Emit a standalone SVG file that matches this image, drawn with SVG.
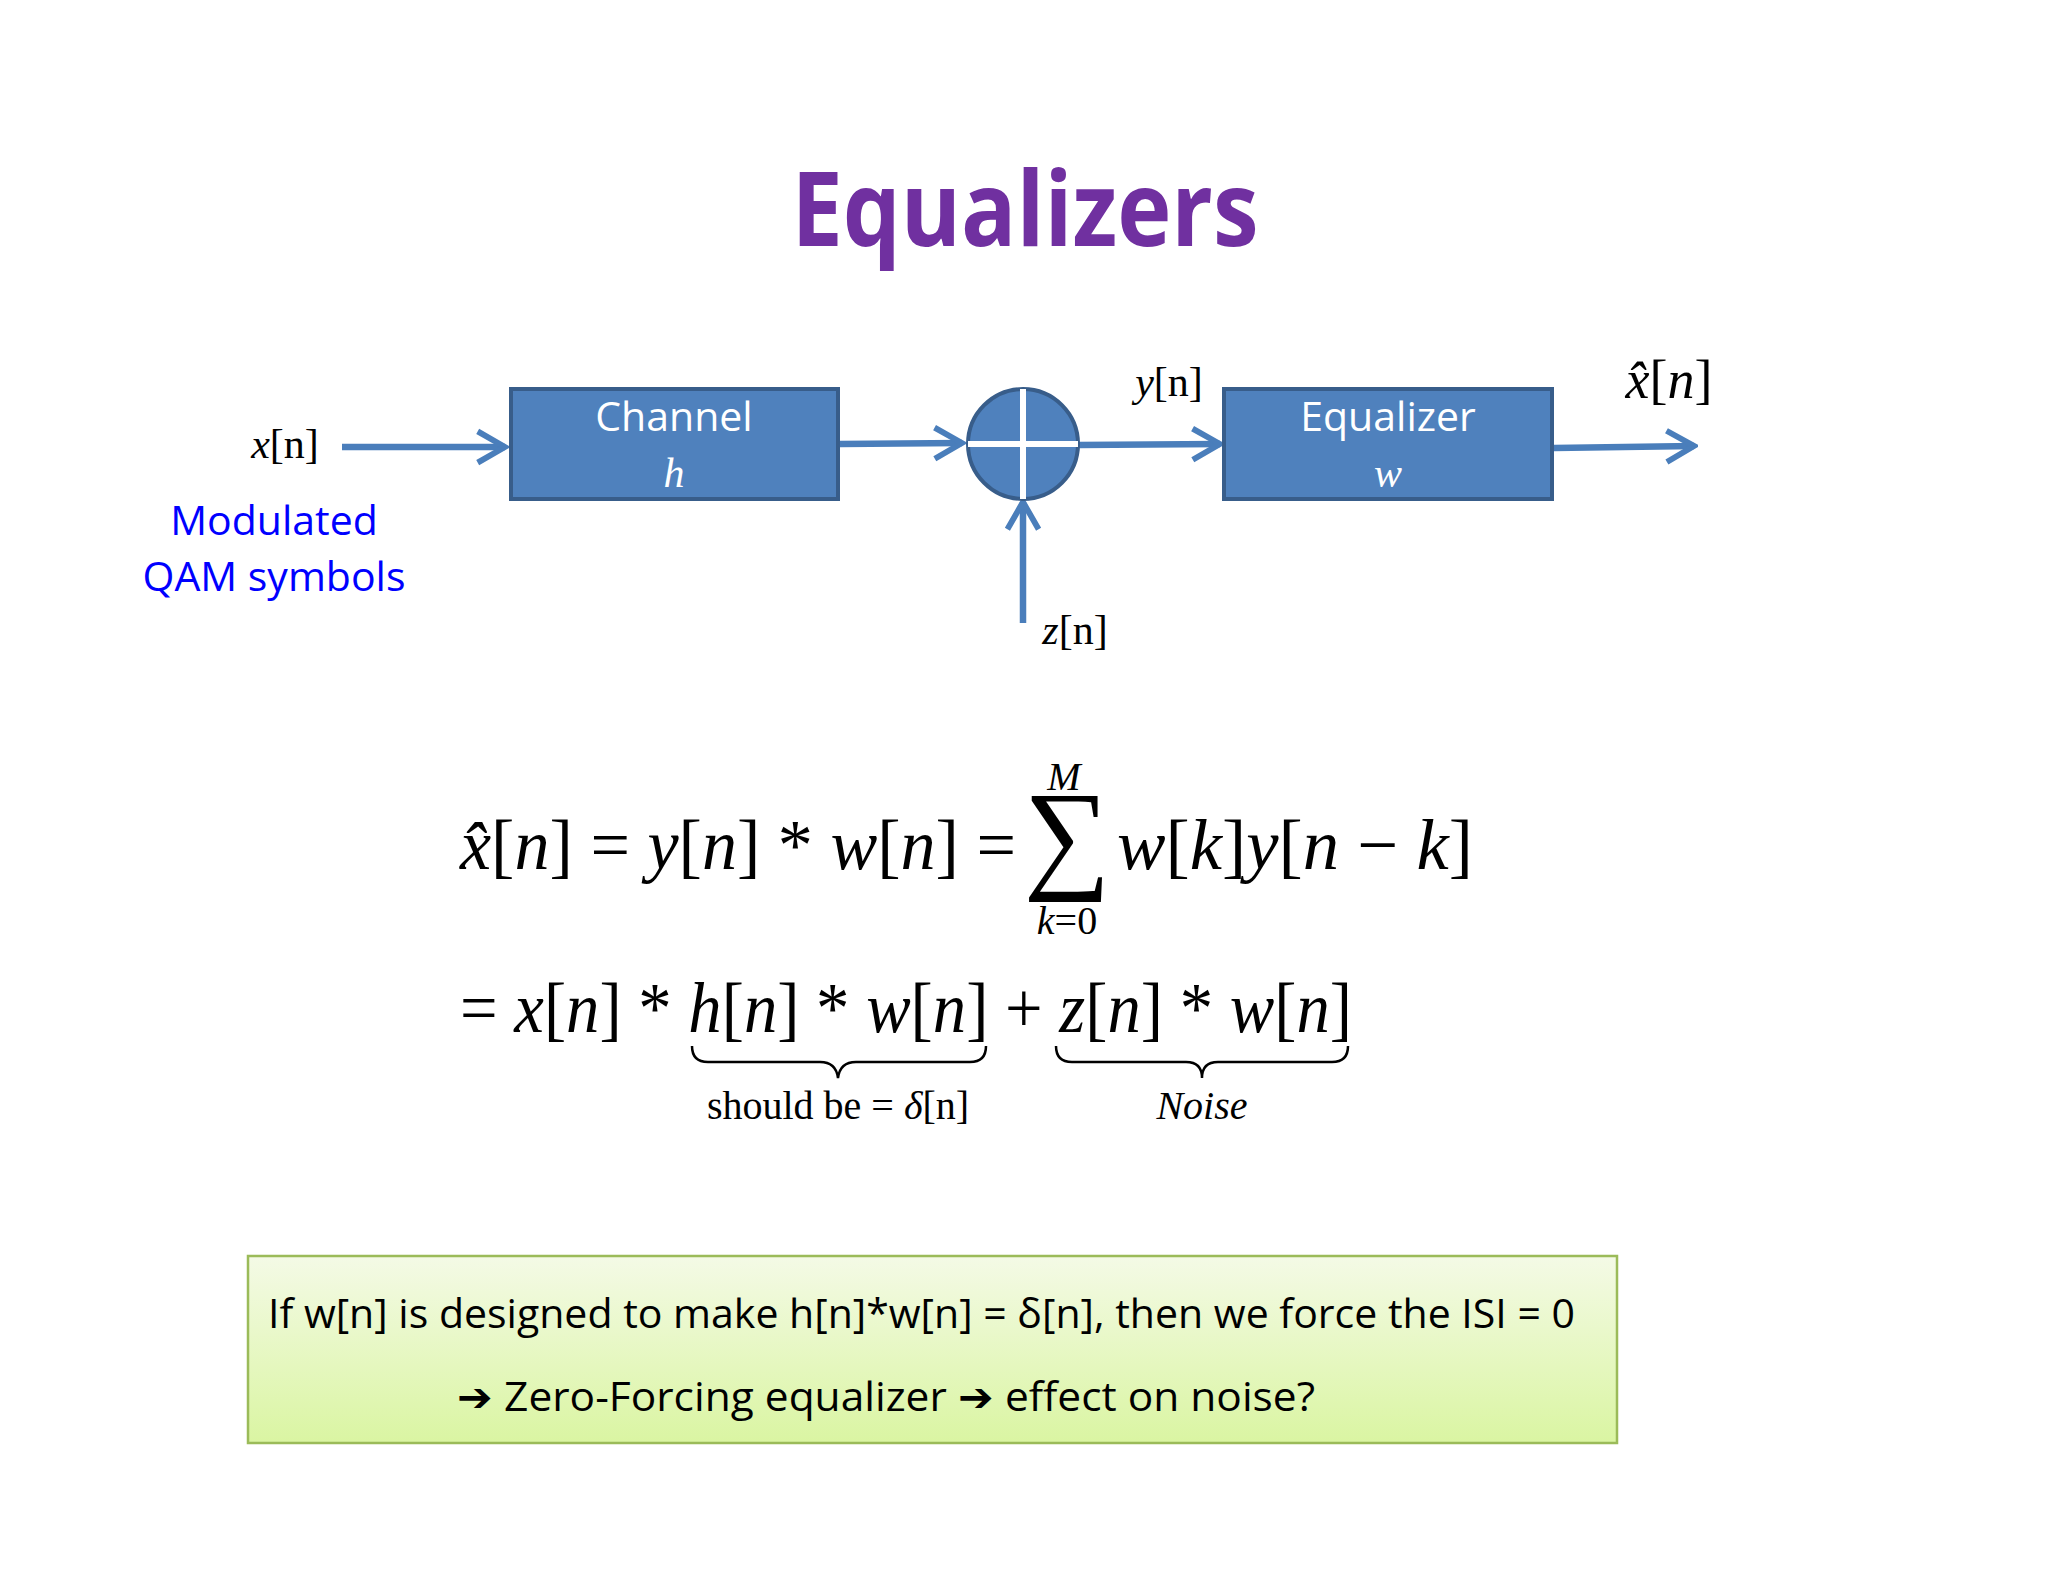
<svg xmlns="http://www.w3.org/2000/svg" width="2048" height="1582" viewBox="0 0 2048 1582">
<defs>
<style>
.ser{font-family:"Liberation Serif","Times New Roman",serif;fill:#000}
.i{font-style:italic}
.cal{font-family:"Open Sans","Liberation Sans",sans-serif}
.box{fill:#4F81BD;stroke:#385D8A;stroke-width:4}
.conn{stroke:#4A7EBB;stroke-width:6.5;fill:none}
.brace{stroke:#000;stroke-width:2.5;fill:none}
</style>
<marker id="ah" viewBox="0 0 20 20" refX="18" refY="10" markerWidth="6" markerHeight="6" markerUnits="strokeWidth" orient="auto">
<path d="M4 2 L18 10 L4 18" fill="none" stroke="#4A7EBB" stroke-width="3"/>
</marker>
<linearGradient id="gg" x1="0" y1="0" x2="0" y2="1">
<stop offset="0" stop-color="#F4FAE6"/><stop offset="1" stop-color="#DAF5A2"/>
</linearGradient>
</defs>
<rect width="2048" height="1582" fill="#fff"/>
<text x="1025" y="246" text-anchor="middle" font-family="Open Sans, Liberation Sans, sans-serif" font-weight="bold" font-size="104" fill="#7030A0" textLength="467" lengthAdjust="spacingAndGlyphs">Equalizers</text>

<g id="connectors">
<line class="conn" x1="342" y1="447" x2="505" y2="447" marker-end="url(#ah)"/>
<line class="conn" x1="840" y1="444" x2="962" y2="443" marker-end="url(#ah)"/>
<line class="conn" x1="1079" y1="445" x2="1220" y2="444" marker-end="url(#ah)"/>
<line class="conn" x1="1554" y1="448" x2="1694" y2="446" marker-end="url(#ah)"/>
<line class="conn" x1="1023" y1="623" x2="1023" y2="502" marker-end="url(#ah)"/>
</g>

<g id="channel">
<rect class="box" x="511" y="389" width="327" height="110"/>
<text x="674" y="431" text-anchor="middle" class="cal" font-size="41" fill="#fff">Channel</text>
<text x="674" y="487" text-anchor="middle" class="ser i" font-size="42" style="fill:#fff">h</text>
</g>
<g id="sum">
<circle cx="1023" cy="444" r="55" fill="#4F81BD" stroke="#385D8A" stroke-width="4"/>
<line x1="968" y1="444" x2="1078" y2="444" stroke="#fff" stroke-width="6"/>
<line x1="1023" y1="389" x2="1023" y2="499" stroke="#fff" stroke-width="6"/>
</g>
<g id="equalizer">
<rect class="box" x="1224" y="389" width="328" height="110"/>
<text x="1388" y="431" text-anchor="middle" class="cal" font-size="41" fill="#fff">Equalizer</text>
<text x="1388" y="487" text-anchor="middle" class="ser i" font-size="42" style="fill:#fff">w</text>
</g>

<g id="labels">
<text x="285" y="458" text-anchor="middle" class="ser" font-size="42"><tspan class="i">x</tspan>[n]</text>
<text x="274" y="535" text-anchor="middle" class="cal" font-size="41" fill="#0000FF">Modulated</text>
<text x="274" y="591" text-anchor="middle" class="cal" font-size="41" fill="#0000FF">QAM symbols</text>
<text x="1169" y="396" text-anchor="middle" class="ser" font-size="42"><tspan class="i">y</tspan>[n]</text>
<text x="1669" y="398" text-anchor="middle" class="ser" font-size="54"><tspan class="i">x̂</tspan>[<tspan class="i">n</tspan>]</text>
<text x="1075" y="644" text-anchor="middle" class="ser" font-size="42"><tspan class="i">z</tspan>[n]</text>
</g>

<g id="equation">
<text x="460" y="869" class="ser" font-size="72" textLength="556" lengthAdjust="spacingAndGlyphs"><tspan class="i">x̂</tspan>[<tspan class="i">n</tspan>] = <tspan class="i">y</tspan>[<tspan class="i">n</tspan>] * <tspan class="i">w</tspan>[<tspan class="i">n</tspan>] =</text>
<text x="1067" y="876" text-anchor="middle" class="ser" font-size="122">∑</text>
<text x="1064" y="790" text-anchor="middle" class="ser i" font-size="40">M</text>
<text x="1067" y="934" text-anchor="middle" class="ser" font-size="40"><tspan class="i">k</tspan>=0</text>
<text x="1117" y="869" class="ser" font-size="72" textLength="356" lengthAdjust="spacingAndGlyphs"><tspan class="i">w</tspan>[<tspan class="i">k</tspan>]<tspan class="i">y</tspan>[<tspan class="i">n</tspan> − <tspan class="i">k</tspan>]</text>
<text x="460" y="1032" class="ser" font-size="72" textLength="892" lengthAdjust="spacingAndGlyphs">= <tspan class="i">x</tspan>[<tspan class="i">n</tspan>] * <tspan class="i">h</tspan>[<tspan class="i">n</tspan>] * <tspan class="i">w</tspan>[<tspan class="i">n</tspan>] + <tspan class="i">z</tspan>[<tspan class="i">n</tspan>] * <tspan class="i">w</tspan>[<tspan class="i">n</tspan>]</text>
<path class="brace" d="M692 1046 Q692 1062 708 1062 L820 1062 Q836 1062 838 1078 Q840 1062 856 1062 L970 1062 Q986 1062 986 1046"/>
<path class="brace" d="M1056 1046 Q1056 1062 1072 1062 L1186 1062 Q1202 1062 1202 1078 Q1202 1062 1218 1062 L1332 1062 Q1348 1062 1348 1046"/>
<text x="838" y="1119" text-anchor="middle" class="ser" font-size="40">should be = <tspan class="i">δ</tspan>[n]</text>
<text x="1202" y="1119" text-anchor="middle" class="ser i" font-size="40">Noise</text>
</g>

<g id="note">
<rect x="248" y="1256" width="1369" height="187" fill="url(#gg)" stroke="#9BBB59" stroke-width="2.5"/>
<text x="268" y="1328" class="cal" font-size="40" fill="#000" textLength="1307" lengthAdjust="spacingAndGlyphs">If w[n] is designed to make h[n]*w[n] = δ[n], then we force the ISI = 0</text>
<text x="457" y="1411" class="cal" font-size="40" fill="#000" textLength="858" lengthAdjust="spacingAndGlyphs">➔ Zero-Forcing  equalizer ➔ effect on noise?</text>
</g>
</svg>
